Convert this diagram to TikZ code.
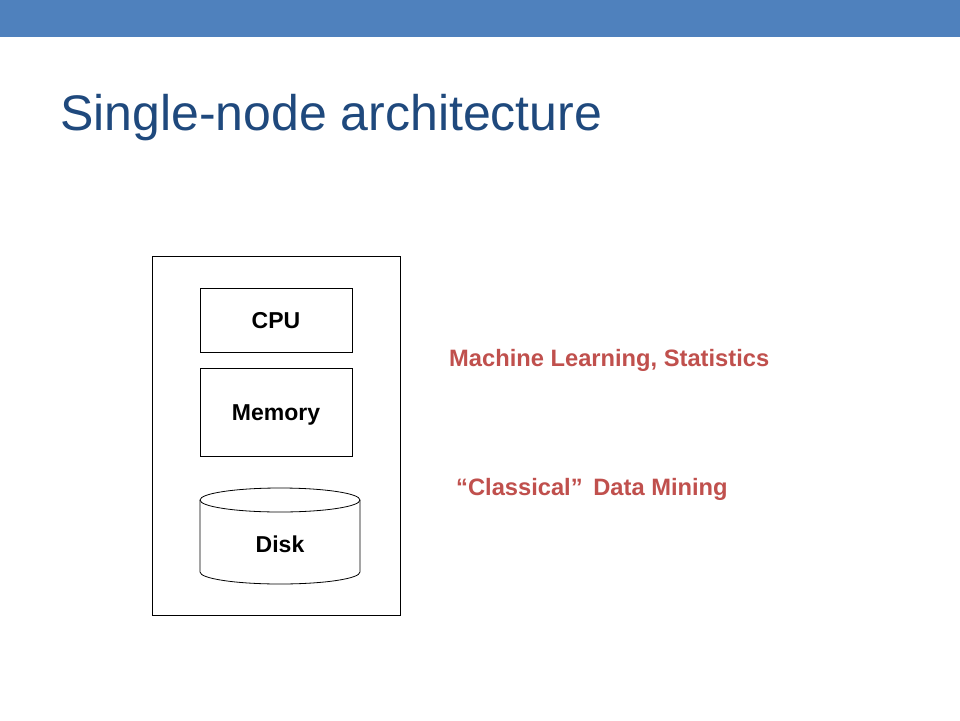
\documentclass[tikz,border=0pt]{standalone}
\usepackage{fontspec}
\setmainfont{Liberation Sans}
\definecolor{barre}{HTML}{4F81BD}
\definecolor{titre}{HTML}{1F497D}
\definecolor{rouge}{HTML}{C0504D}
\tikzset{boite/.style={draw,thick,minimum width=152pt,text height=16.5pt,text depth=0pt,font=\bfseries\fontsize{23}{27}\selectfont},
    etiquette/.style={text=rouge,anchor=base west,inner sep=0pt,font=\bfseries\fontsize{23.7}{28}\selectfont}}

\begin{document}
\begin{tikzpicture}[x=1pt,y=-1pt]
    \useasboundingbox[fill=white] (0,0) rectangle (960,720);
    % Dessine la barre et le titre
    \fill[barre] (0,0) rectangle (960,37);
    \node[anchor=base west,inner sep=0pt,text=titre,font=\fontsize{50}{60}\selectfont] (titre) at (60,130) {Single-node architecture};

    % Dessine la machine
    \draw[thick] (152,256) rectangle (400,615);
    \node[boite,minimum height=64pt] (cpu) at (276,320.5) {CPU};
    \node[boite,minimum height=88pt] (memoire) at (276,412) {Memory};

    % Dessine le disque
    \draw[thick] (200,500) -- (200,572) arc (180:0:80 and 12) -- (360,500);
    \draw[thick] (280,500) ellipse (80 and 12);
    \node[text height=16.5pt,text depth=0pt,font=\bfseries\fontsize{23}{27}\selectfont] (disque) at (280,544) {Disk};

    % Les textes
    \node[etiquette] (ml) at (449,366.5) {Machine Learning, Statistics};
    \node[etiquette] (dm) at (456,495.5) {``Classical''\hspace{0.45em}Data Mining};
\end{tikzpicture}
\end{document}
